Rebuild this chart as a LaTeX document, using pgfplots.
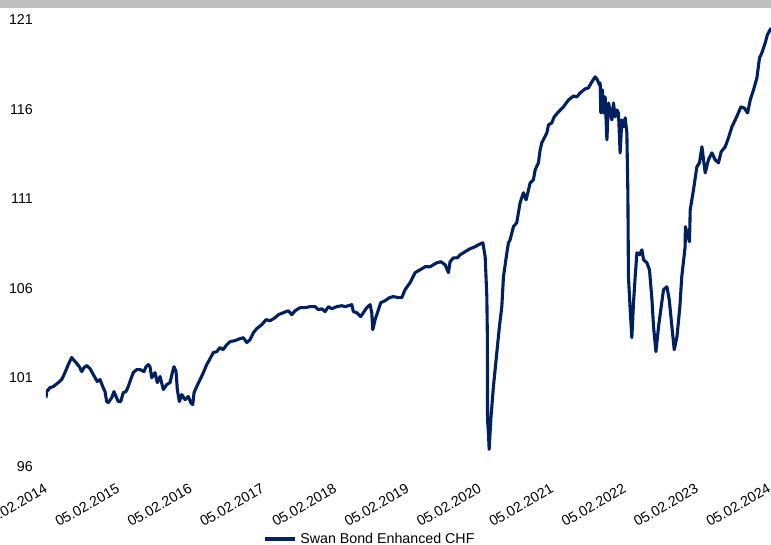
\documentclass[border=0pt]{standalone}
\usepackage{fontspec}
\setmainfont{Liberation Sans}
\usepackage{pgfplots}
\pgfplotsset{compat=1.18}
\definecolor{swanblue}{RGB}{0,32,96}
\definecolor{topbar}{RGB}{191,191,191}

\begin{document}
\begin{tikzpicture}
\useasboundingbox (-46bp,-78bp) rectangle (725bp,467bp);
\fill[topbar] (-46bp,459bp) rectangle (725bp,467bp);
\begin{axis}[
    at={(0,0)}, anchor=south west,
    scale only axis,
    width=725bp, height=447bp,
    xmin=0, xmax=10.024,
    ymin=96, ymax=121,
    axis line style={draw=none},
    major tick length=0pt,
    xtick={0,1,...,10},
    xticklabels={05.02.2014,05.02.2015,05.02.2016,05.02.2017,05.02.2018,05.02.2019,05.02.2020,05.02.2021,05.02.2022,05.02.2023,05.02.2024},
    ytick={96,101,106,111,116,121},
    /pgf/number format/assume math mode=true,
    tick label style={font=\fontsize{14.3}{17}\selectfont, text=black},
    xticklabel style={yshift=-20bp, rotate=30, anchor=east, inner sep=0pt},
    yticklabel style={anchor=east, inner sep=0pt, xshift=-13bp},
    legend style={at={(0.2993,-0.161)}, anchor=west, draw=none, fill=none,
        inner sep=0pt, font=\fontsize{14.3}{17}\selectfont,
        nodes={inner sep=0pt, anchor=west}},
    legend image code/.code={\draw[#1] (0bp,0bp) -- (30bp,0bp); \path (34bp,0bp);},
]
\addplot[swanblue, line width=3.1bp, line join=round] coordinates {
(0.000,99.88) (0.010,100.22) (0.055,100.44) (0.101,100.50) (0.170,100.72)
(0.217,100.89) (0.263,101.28) (0.308,101.73) (0.355,102.12) (0.378,102.01)
(0.415,101.84) (0.461,101.61) (0.494,101.34) (0.526,101.56) (0.563,101.67)
(0.609,101.50) (0.654,101.17) (0.709,100.78) (0.747,100.89) (0.784,100.50)
(0.816,100.22) (0.839,99.66) (0.862,99.60) (0.909,99.88) (0.940,100.22)
(0.968,99.94) (1.000,99.66) (1.033,99.66) (1.069,100.16) (1.106,100.22)
(1.138,100.50) (1.171,100.89) (1.207,101.28) (1.254,101.45) (1.300,101.45)
(1.355,101.34) (1.383,101.61) (1.415,101.73) (1.438,101.61) (1.462,100.99)
(1.507,101.28) (1.539,100.72) (1.577,101.06) (1.622,100.33) (1.669,100.61)
(1.715,100.72) (1.747,101.28) (1.770,101.61) (1.798,101.34) (1.816,100.33)
(1.844,99.66) (1.877,100.05) (1.922,99.77) (1.968,99.94) (2.001,99.60)
(2.029,99.49) (2.047,100.16) (2.084,100.50) (2.130,100.89) (2.176,101.28)
(2.222,101.73) (2.245,101.89) (2.268,102.06) (2.314,102.40) (2.361,102.45)
(2.406,102.68) (2.448,102.56) (2.499,102.84) (2.545,103.01) (2.614,103.07)
(2.683,103.18) (2.729,103.23) (2.776,102.96) (2.821,103.12) (2.867,103.51)
(2.914,103.74) (2.983,103.96) (3.043,104.24) (3.098,104.18) (3.167,104.35)
(3.213,104.52) (3.282,104.63) (3.351,104.74) (3.398,104.52) (3.444,104.74)
(3.513,104.91) (3.582,104.91) (3.651,104.97) (3.720,104.97) (3.766,104.80)
(3.813,104.85) (3.859,104.69) (3.904,104.97) (3.951,104.85) (4.020,104.97)
(4.090,105.02) (4.135,104.97) (4.181,105.02) (4.228,105.08) (4.250,104.69)
(4.297,104.63) (4.352,104.41) (4.388,104.63) (4.435,104.91) (4.481,105.08)
(4.504,104.63) (4.518,103.68) (4.550,104.24) (4.596,104.80) (4.629,105.19)
(4.688,105.30) (4.748,105.47) (4.803,105.53) (4.872,105.47) (4.919,105.47)
(4.965,105.92) (5.034,106.31) (5.103,106.87) (5.172,107.03) (5.242,107.20)
(5.311,107.20) (5.356,107.31) (5.403,107.42) (5.459,107.48) (5.518,107.31)
(5.564,106.87) (5.587,107.48) (5.633,107.70) (5.688,107.70) (5.726,107.87)
(5.795,108.04) (5.864,108.21) (5.933,108.32) (5.979,108.43) (6.040,108.54)
(6.072,107.76) (6.095,105.53) (6.103,103.12) (6.105,98.65) (6.117,97.93)
(6.127,96.98) (6.150,98.65) (6.186,100.50) (6.233,102.40) (6.269,103.85)
(6.302,104.97) (6.325,106.64) (6.372,107.98) (6.394,108.54) (6.417,108.71)
(6.463,109.44) (6.508,109.66) (6.555,110.78) (6.601,111.34) (6.638,110.94)
(6.694,111.89) (6.739,112.06) (6.763,112.62) (6.808,113.01) (6.832,113.74)
(6.855,114.13) (6.925,114.69) (6.947,115.13) (6.994,115.25) (7.026,115.58)
(7.085,115.86) (7.154,116.14) (7.224,116.53) (7.293,116.75) (7.340,116.70)
(7.385,116.92) (7.454,117.15) (7.500,117.20) (7.547,117.54) (7.593,117.82)
(7.624,117.65) (7.652,117.37) (7.662,117.48) (7.671,115.80) (7.685,116.92)
(7.694,117.09) (7.708,115.80) (7.731,116.70) (7.755,114.30) (7.777,116.36)
(7.824,115.41) (7.846,116.36) (7.869,115.58) (7.893,115.97) (7.915,115.80)
(7.938,113.57) (7.962,115.41) (7.984,115.02) (8.008,115.53) (8.031,114.69)
(8.045,111.34) (8.053,106.64) (8.077,104.80) (8.100,103.23) (8.123,105.19)
(8.146,106.64) (8.170,107.98) (8.206,107.87) (8.239,108.15) (8.262,107.59)
(8.308,107.42) (8.344,107.03) (8.378,105.36) (8.400,103.85) (8.433,102.45)
(8.469,103.85) (8.506,104.97) (8.538,105.92) (8.585,106.08) (8.617,105.36)
(8.654,103.85) (8.686,102.56) (8.724,103.29) (8.764,104.97) (8.790,106.64)
(8.837,108.32) (8.840,109.44) (8.897,108.60) (8.907,110.39) (8.952,111.50)
(8.999,112.79) (9.035,113.01) (9.069,113.91) (9.114,112.45) (9.159,113.18)
(9.207,113.57) (9.252,113.18) (9.298,113.01) (9.335,113.63) (9.391,113.91)
(9.436,114.41) (9.483,115.02) (9.529,115.41) (9.561,115.69) (9.608,116.14)
(9.654,116.08) (9.700,115.80) (9.737,116.53) (9.782,117.09) (9.829,117.76)
(9.865,118.88) (9.898,119.16) (9.944,119.72) (9.973,120.16) (10.024,120.55)
};
\addlegendentry{Swan Bond Enhanced CHF}
\end{axis}
\end{tikzpicture}
\end{document}
